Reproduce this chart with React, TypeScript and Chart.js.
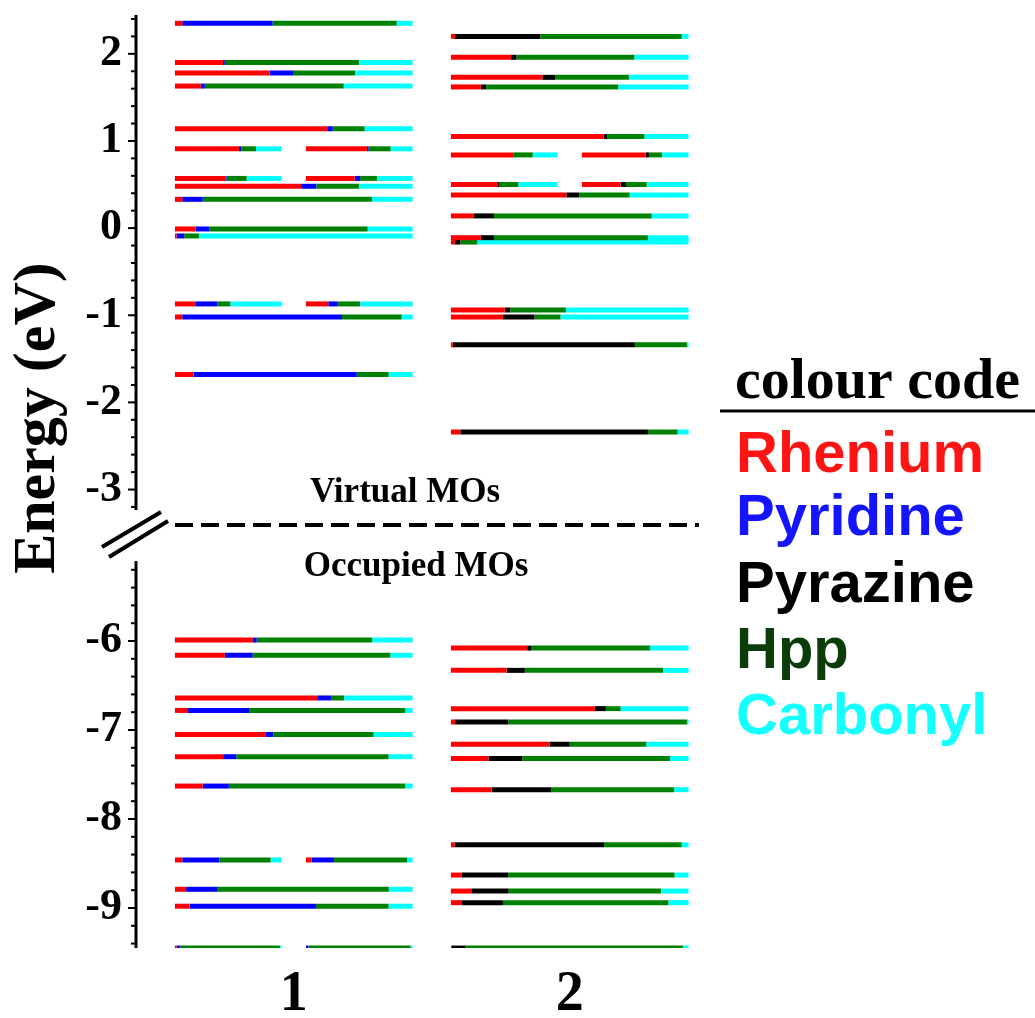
import React, { useEffect, useRef } from 'react';
import { Chart, registerables } from 'chart.js';

Chart.register(...registerables);

// ---------- data ----------
const systems = ['1', '2'];
const fragments = ['Rhenium', 'Pyridine', 'Pyrazine', 'Hpp', 'Carbonyl'];
const fragmentColors = ['#ff0000', '#0000ff', '#000000', '#008000', '#00ffff'];
const legendColors = ['#ff1414', '#1414ff', '#000000', '#0b3d0b', '#14ffff'];

// MO energies (eV); part: 0 = single level, 1/2 = left/right half of a degenerate pair
const mol1Energy = [2.35, 1.90, 1.78, 1.63, 1.14, 0.91, 0.91, 0.57, 0.57, 0.48, 0.33, -0.01, -0.09, -0.87, -0.87, -1.02, -1.68,
  -5.99, -6.16, -6.64, -6.78, -7.05, -7.30, -7.63, -8.46, -8.46, -8.79, -8.98, -9.45, -9.45];
const mol1Part = [0, 0, 0, 0, 0, 1, 2, 1, 2, 0, 0, 0, 0, 1, 2, 0, 0,
  0, 0, 0, 0, 0, 0, 0, 1, 2, 0, 0, 1, 2];
const mol1Re = [3.1, 20.2, 39.8, 10.9, 64.1, 60.0, 57.2, 47.2, 45.7, 53.1, 3.1, 8.7, 0.7, 19.1, 21.0, 3.1, 7.9,
  32.8, 21.0, 60.2, 5.5, 38.3, 20.3, 11.7, 6.9, 5.4, 4.7, 6.2, 1.6, 0];
const mol1Pyr = [38.0, 0.8, 10.2, 1.7, 2.3, 2.2, 1.6, 1.2, 5.1, 6.4, 8.6, 5.7, 3.2, 20.6, 8.9, 67.2, 68.6,
  1.6, 11.7, 5.5, 25.7, 3.1, 5.5, 11.0, 34.7, 21.0, 13.3, 53.2, 3.4, 2.3];
const mol1Hpp = [52.2, 56.4, 25.8, 58.5, 13.4, 13.8, 20.6, 18.8, 15.9, 17.9, 71.2, 66.7, 6.2, 12.2, 21.0, 25.1, 13.4,
  48.6, 57.9, 5.5, 65.7, 42.2, 64.1, 74.2, 48.1, 68.5, 72.0, 30.5, 93.4, 95.7];
const mol1CO = [6.7, 22.6, 24.2, 29.0, 20.2, 24.0, 20.6, 32.8, 33.3, 22.6, 17.1, 18.9, 89.9, 48.1, 49.1, 4.6, 10.1,
  17.0, 9.4, 28.8, 3.1, 16.4, 10.1, 3.1, 10.3, 5.1, 10.0, 10.1, 1.6, 2.0];

const mol2Energy = [2.20, 1.96, 1.73, 1.62, 1.05, 0.84, 0.84, 0.50, 0.50, 0.38, 0.14, -0.11, -0.16, -0.94, -1.02, -1.34, -2.34,
  -6.08, -6.33, -6.76, -6.91, -7.16, -7.32, -7.67, -8.29, -8.63, -8.81, -8.94, -9.45];
const mol2Part = [0, 0, 0, 0, 0, 1, 2, 1, 2, 0, 0, 0, 0, 0, 0, 0, 0,
  0, 0, 0, 0, 0, 0, 0, 0, 0, 0, 0, 0];
const mol2Re = [1.7, 25.3, 38.5, 12.6, 64.3, 59.0, 59.7, 44.1, 36.3, 48.6, 9.5, 12.6, 1.7, 22.7, 21.9, 0.8, 4.0,
  32.1, 23.4, 60.6, 1.7, 41.5, 15.8, 17.2, 1.5, 4.6, 8.6, 4.7, 0.4];
const mol2Pyz = [35.9, 2.3, 5.5, 2.3, 1.4, 0, 3.1, 1.6, 5.0, 5.4, 8.6, 5.5, 2.3, 2.3, 13.3, 76.6, 79.0,
  1.6, 7.7, 4.6, 22.5, 8.5, 14.2, 25.0, 63.0, 19.5, 15.7, 17.2, 5.8];
const mol2Hpp = [59.5, 49.6, 30.9, 55.5, 15.7, 17.7, 12.3, 17.5, 19.4, 21.2, 66.4, 64.8, 7.1, 23.4, 10.9, 21.9, 12.4,
  50.1, 58.2, 6.2, 75.1, 32.2, 62.2, 51.7, 32.6, 70.0, 64.1, 69.6, 91.5];
const mol2CO = [2.9, 22.8, 25.1, 29.6, 18.6, 23.3, 24.9, 36.8, 39.3, 24.8, 15.5, 17.1, 88.9, 51.6, 53.9, 0.7, 4.6,
  16.2, 10.7, 28.6, 0.7, 17.8, 7.8, 6.1, 2.9, 5.9, 11.6, 8.5, 2.3];

// axis ticks (eV) on both sides of the break
const upperTicks: number[] = [];
for (let k = 12; k >= -16; k--) upperTicks.push(k / 5);
const lowerTicks: number[] = [];
for (let k = -26; k >= -47; k--) lowerTicks.push(k / 5);

// ---------- broken-axis mapping ----------
// upper part is plotted at its own energy; lower part is shifted/scaled below the break
const LOWER_ANCHOR = -4.7383; // axis value where -6 eV sits
const LOWER_RATIO = 1.02134; // lower section is drawn slightly more stretched
const toAxis = (e: number) => (e < -4 ? LOWER_ANCHOR + LOWER_RATIO * (e + 6) : e);
const fromAxis = (t: number) => (t < -3.6 ? -6 + (t - LOWER_ANCHOR) / LOWER_RATIO : t);
const FULL_HALF = 0.4306;
const PAIR_LEN = 0.3866;

function span(center: number, part: number): [number, number] {
  if (part === 0) return [center - FULL_HALF, center + FULL_HALF];
  if (part === 1) return [center - FULL_HALF, center - FULL_HALF + PAIR_LEN];
  return [center + FULL_HALF - PAIR_LEN, center + FULL_HALF];
}

function buildDatasets(center: number, energy: number[], part: number[], comps: number[][], colors: string[]) {
  const out: any[] = [];
  energy.forEach((e, i) => {
    const [x0, x1] = span(center, part[i]);
    const vals = comps.map((c) => c[i]);
    const total = vals.reduce((a, b) => a + b, 0);
    let acc = 0;
    vals.forEach((v, j) => {
      if (v <= 0) return;
      const a = x0 + ((x1 - x0) * acc) / total;
      acc += v;
      const b = x0 + ((x1 - x0) * acc) / total;
      out.push({
        type: 'line',
        data: [{ x: a, y: toAxis(e) }, { x: b, y: toAxis(e) }],
        borderColor: colors[j],
        backgroundColor: colors[j],
        borderWidth: 5,
        borderCapStyle: 'butt',
        pointRadius: 0,
        pointHoverRadius: 0,
        tension: 0,
        fill: false,
        clip: 0,
      });
    });
  });
  return out;
}

const annotations = {
  id: 'annotations',
  afterDraw(chart: any) {
    const ctx = chart.ctx;
    const { left, top, bottom } = chart.chartArea;
    const y = chart.scales.y;
    ctx.save();
    ctx.strokeStyle = '#000';
    ctx.fillStyle = '#000';

    // broken axis line
    const upperEnd = y.getPixelForValue(-3.235);
    const lowerStart = y.getPixelForValue(toAxis(-5.1));
    ctx.lineWidth = 3;
    ctx.beginPath();
    ctx.moveTo(left - 1, top);
    ctx.lineTo(left - 1, upperEnd);
    ctx.moveTo(left - 1, lowerStart);
    ctx.lineTo(left - 1, bottom);
    ctx.stroke();

    // tick marks
    ctx.lineWidth = 2;
    y.ticks.forEach((tk: any) => {
      const py = y.getPixelForValue(tk.value);
      if (py < top + 2) return;
      const e = fromAxis(tk.value);
      const major = Math.abs(e - Math.round(e)) < 0.01;
      ctx.beginPath();
      ctx.moveTo(left - (major ? 9 : 6), py);
      ctx.lineTo(left - 1, py);
      ctx.stroke();
    });

    // break symbol
    ctx.lineWidth = 4;
    ctx.beginPath();
    ctx.moveTo(102, 547);
    ctx.lineTo(161, 512);
    ctx.moveTo(109, 557);
    ctx.lineTo(168, 521);
    ctx.stroke();

    // dashed separator
    const sepY = y.getPixelForValue(-3.407);
    ctx.lineWidth = 4;
    ctx.setLineDash([18, 8]);
    ctx.beginPath();
    ctx.moveTo(175, sepY);
    ctx.lineTo(699, sepY);
    ctx.stroke();
    ctx.setLineDash([]);

    ctx.font = 'bold 35px "Liberation Serif"';
    ctx.textAlign = 'center';
    ctx.textBaseline = 'middle';
    ctx.fillText('Virtual MOs', 405, y.getPixelForValue(-3.04));
    ctx.fillText('Occupied MOs', 416, y.getPixelForValue(-3.889));

    // axis title
    ctx.save();
    ctx.translate(38, 418);
    ctx.rotate(-Math.PI / 2);
    ctx.font = 'bold 60px "Liberation Serif"';
    ctx.textAlign = 'center';
    ctx.textBaseline = 'middle';
    ctx.fillText('Energy (eV)', 0, 0);
    ctx.restore();

    // colour code legend
    ctx.textAlign = 'left';
    ctx.textBaseline = 'alphabetic';
    ctx.font = 'bold 58px "Liberation Serif"';
    ctx.fillText('colour code', 735, 398);
    ctx.lineWidth = 3;
    ctx.beginPath();
    ctx.moveTo(720, 411);
    ctx.lineTo(1035, 411);
    ctx.stroke();
    ctx.font = 'bold 58px "Liberation Sans"';
    const baselines = [472, 535, 602, 668, 734];
    fragments.forEach((f, i) => {
      ctx.fillStyle = legendColors[i];
      ctx.fillText(f, 736, baselines[i]);
    });
    ctx.restore();
  },
};

export default function App() {
  const ref = useRef<HTMLCanvasElement | null>(null);
  useEffect(() => {
    if (!ref.current) return;
    const c1 = [fragmentColors[0], fragmentColors[1], fragmentColors[3], fragmentColors[4]];
    const c2 = [fragmentColors[0], fragmentColors[2], fragmentColors[3], fragmentColors[4]];
    const datasets = [
      ...buildDatasets(1, mol1Energy, mol1Part, [mol1Re, mol1Pyr, mol1Hpp, mol1CO], c1),
      ...buildDatasets(2, mol2Energy, mol2Part, [mol2Re, mol2Pyz, mol2Hpp, mol2CO], c2),
    ];
    const chart = new Chart(ref.current, {
      type: 'line',
      data: { datasets },
      options: {
        responsive: false,
        animation: false,
        devicePixelRatio: 1,
        layout: { padding: { left: 0, top: 15, right: 335, bottom: 0 } },
        plugins: { legend: { display: false }, tooltip: { enabled: false } },
        events: [],
        scales: {
          x: {
            type: 'linear',
            min: 0.432,
            max: 2.472,
            afterBuildTicks: (scale: any) => {
              scale.ticks = systems.map((_, i) => ({ value: i + 1 }));
            },
            afterFit: (scale: any) => {
              scale.height = 70;
              scale.paddingLeft = 0;
              scale.paddingRight = 0;
            },
            grid: { display: false, drawTicks: false },
            border: { display: false },
            ticks: {
              autoSkip: false,
              maxRotation: 0,
              padding: 14,
              color: '#000',
              font: { family: '"Liberation Serif"', weight: 'bold', size: 56 },
              callback: (v: any) => systems[Math.round(v) - 1] ?? '',
            },
          },
          y: {
            type: 'linear',
            min: -8.2614,
            max: 2.4455,
            afterBuildTicks: (scale: any) => {
              scale.ticks = [...upperTicks, ...lowerTicks].map((v) => ({ value: toAxis(v) }));
            },
            afterFit: (scale: any) => {
              scale.width = 137;
              scale.paddingTop = 0;
              scale.paddingBottom = 0;
            },
            grid: { display: false, drawTicks: false },
            border: { display: false },
            ticks: {
              autoSkip: false,
              padding: 15,
              color: '#000',
              font: { family: '"Liberation Serif"', weight: 'bold', size: 44 },
              callback: (v: any) => {
                const e = fromAxis(Number(v));
                const r = Math.round(e);
                return Math.abs(e - r) < 0.01 ? String(r) : '';
              },
            },
          },
        },
      },
      plugins: [annotations],
    } as any);
    return () => chart.destroy();
  }, []);
  return (
    <canvas
      ref={ref}
      width={1035}
      height={1018}
      style={{ position: 'absolute', left: 0, top: 0, width: 1035, height: 1018, display: 'block' }}
    />
  );
}
